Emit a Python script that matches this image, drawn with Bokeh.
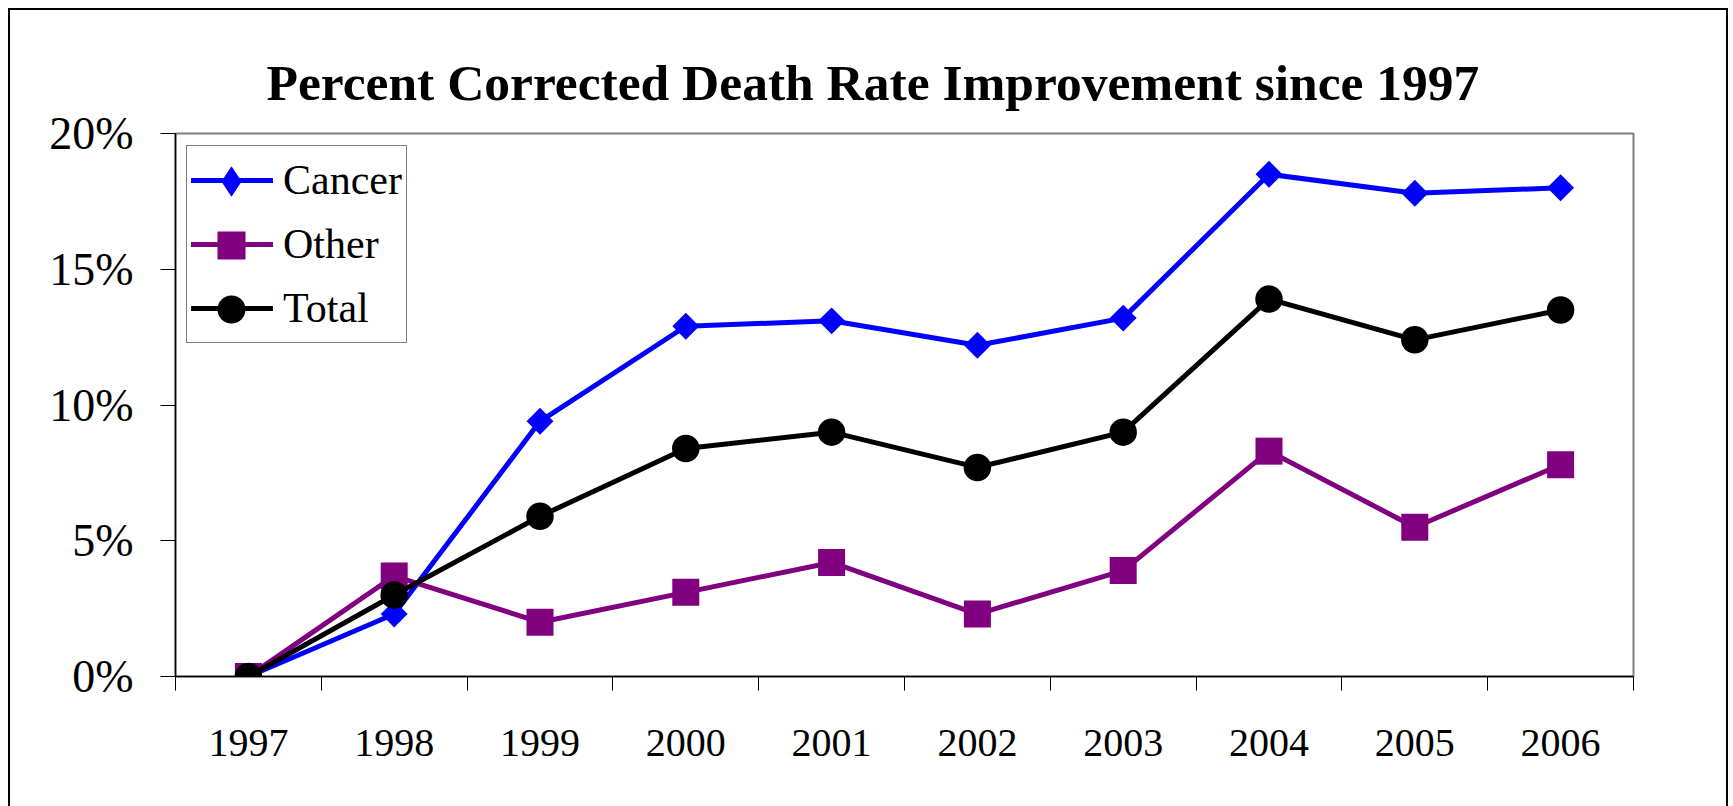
from math import pi
from bokeh.plotting import figure
from bokeh.models import (Range1d, FixedTicker, Legend, LegendItem,
                          ColumnDataSource)
from bokeh.embed import file_html
from bokeh.resources import INLINE

# ---------------- data ----------------
years = [1997, 1998, 1999, 2000, 2001, 2002, 2003, 2004, 2005, 2006]
year_labels = ["1997", "1998", "1999", "2000", "2001", "2002", "2003", "2004", "2005", "2006"]
cancer = [0.0, 2.3, 9.4, 12.9, 13.1, 12.2, 13.2, 18.5, 17.8, 18.0]
other = [0.0, 3.7, 2.0, 3.1, 4.2, 2.3, 3.9, 8.3, 5.5, 7.8]
total = [0.0, 3.0, 5.9, 8.4, 9.0, 7.7, 9.0, 13.9, 12.4, 13.5]
series_names = ["Cancer", "Other", "Total"]
y_ticks = [0, 5, 10, 15, 20]
y_tick_labels = ["0%", "5%", "10%", "15%", "20%"]
title_text = "Percent Corrected Death Rate Improvement since 1997"

FONT = "Liberation Serif"
FRAME_W, FRAME_H = 1458, 543

src = ColumnDataSource(dict(year=years, cancer=cancer, other=other, total=total))

p = figure(frame_width=FRAME_W, frame_height=FRAME_H,
           min_border_left=165, min_border_right=93,
           min_border_top=123, min_border_bottom=130,
           x_range=Range1d(years[0] - 0.5, years[-1] + 0.5),
           y_range=Range1d(y_ticks[0], y_ticks[-1]),
           output_backend="svg", toolbar_location=None, tools="")

p.styles = {"margin-left": "8px", "margin-top": "8px",
            "border-top": "2px solid black", "border-left": "2px solid black",
            "border-right": "2px solid black"}
p.background_fill_color = "white"
p.border_fill_color = "white"
p.outline_line_color = "#808080"
p.outline_line_width = 2
p.xgrid.visible = False
p.ygrid.visible = False

# title
p.title.text = title_text
p.title.align = "left"
p.title.offset = 91
p.title.standoff = 46
p.title.text_font = FONT
p.title.text_font_style = "bold"
p.title.text_font_size = "51.5px"
p.title.text_color = "black"

# x axis: labels at category centres, tick marks at category boundaries
xa = p.xaxis[0]
xa.ticker = FixedTicker(ticks=years,
                        minor_ticks=[y - 0.5 for y in years] + [years[-1] + 0.5])
xa.major_label_overrides = {y: lab for y, lab in zip(years, year_labels)}
xa.major_tick_out = 0
xa.major_tick_in = 0
xa.minor_tick_out = 14
xa.minor_tick_in = 0
xa.minor_tick_line_color = "black"
xa.minor_tick_line_width = 1
xa.axis_line_color = "black"
xa.axis_line_width = 1.5
xa.major_label_text_font = FONT
xa.major_label_text_font_size = "40px"
xa.major_label_text_color = "black"
xa.major_label_standoff = 39

ya = p.yaxis[0]
ya.ticker = FixedTicker(ticks=y_ticks)
ya.major_label_overrides = {t: lab for t, lab in zip(y_ticks, y_tick_labels)}
ya.major_tick_out = 15
ya.major_tick_in = 0
ya.major_tick_line_color = "black"
ya.minor_tick_out = 0
ya.minor_tick_in = 0
ya.axis_line_color = "black"
ya.axis_line_width = 1.5
ya.major_label_text_font = FONT
ya.major_label_text_font_size = "46px"
ya.major_label_text_color = "black"
ya.major_label_standoff = 27

# series
l1 = p.line("year", "cancer", source=src, line_color="#0000FF", line_width=5,
            line_cap="round")
m1 = p.scatter("year", "cancer", source=src, marker="square", angle=pi / 4, size=19,
               fill_color="#0000FF", line_color="#0000FF", line_width=0)
l2 = p.line("year", "other", source=src, line_color="#800080", line_width=5,
            line_cap="round")
m2 = p.scatter("year", "other", source=src, marker="square", size=27,
               fill_color="#800080", line_color="#800080", line_width=0)
l3 = p.line("year", "total", source=src, line_color="black", line_width=5,
            line_cap="round")
m3 = p.scatter("year", "total", source=src, marker="circle", size=27.5,
               fill_color="black", line_color="black", line_width=0)

# hidden renderers, used only for the legend marker swatches
h1 = p.scatter("year", "cancer", source=src, marker="diamond", fill_color="#0000FF",
               line_color="#0000FF", line_width=0, visible=False)
h2 = p.scatter("year", "other", source=src, marker="square", fill_color="#800080",
               line_color="#800080", line_width=0, visible=False)
h3 = p.scatter("year", "total", source=src, marker="circle", fill_color="black",
               line_color="black", line_width=0, visible=False)

# main legend (box, lines, labels)
LEG_X, LEG_TOP, LEG_PAD, GLYPH_H, SPACING = 11, 14, 4, 60, 4
leg_height = 2 * LEG_PAD + 3 * GLYPH_H + 2 * SPACING
legend = Legend(items=[LegendItem(label=series_names[0], renderers=[l1]),
                       LegendItem(label=series_names[1], renderers=[l2]),
                       LegendItem(label=series_names[2], renderers=[l3])],
                location=(LEG_X, FRAME_H - LEG_TOP - leg_height), orientation="vertical",
                glyph_width=82, glyph_height=GLYPH_H, spacing=SPACING, padding=LEG_PAD,
                margin=0, label_standoff=10, label_text_font=FONT,
                label_text_font_size="42px", label_text_color="black",
                label_text_baseline="middle",
                border_line_color="black", border_line_width=1,
                background_fill_color="white", background_fill_alpha=1.0)
p.add_layout(legend)

# overlay legends carrying larger marker swatches (legend marker size = 0.4*glyph box)
for i, (r, box) in enumerate([(h1, 76), (h2, 70), (h3, 70)]):
    centre = LEG_TOP + LEG_PAD + GLYPH_H / 2 + i * (GLYPH_H + SPACING)
    ov = Legend(items=[LegendItem(label=" ", renderers=[r])],
                location=(LEG_X + LEG_PAD, int(round(FRAME_H - centre - box / 2))),
                orientation="vertical", glyph_width=82, glyph_height=box,
                padding=0, margin=0, label_standoff=0, label_text_font_size="10px",
                border_line_alpha=0, background_fill_alpha=0, inactive_fill_alpha=0)
    p.add_layout(ov)

open("out.html", "w").write(file_html(p, INLINE))
